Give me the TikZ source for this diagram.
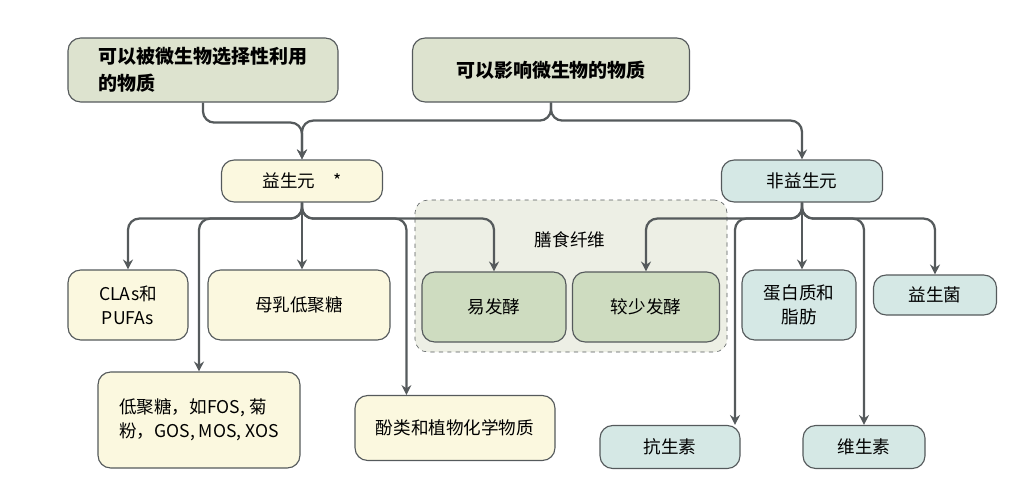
\documentclass[tikz,border=0pt]{standalone}
\usepackage{fontspec}
\setmainfont{Noto Sans CJK SC}
\usetikzlibrary{calc,arrows.meta}
\definecolor{topfill}{HTML}{DDE3CF}
\definecolor{yelfill}{HTML}{FBF8DF}
\definecolor{tealfill}{HTML}{D5E8E5}
\definecolor{grnfill}{HTML}{CEDCC0}
\definecolor{grpfill}{HTML}{EDEFE5}
\definecolor{linecol}{HTML}{555A5C}
\tikzset{
  box/.style={draw=linecol, line width=0.8pt, rounded corners=9pt, align=center,
    font=\fontsize{12.5}{17}\selectfont, inner sep=0pt},
  topbox/.style={box, fill=topfill, font=\fontsize{13.5}{19}\selectfont\bfseries},
  ybox/.style={box, fill=yelfill},
  tbox/.style={box, fill=tealfill},
  gbox/.style={box, fill=grnfill},
  arr/.style={draw=linecol, line width=1.6pt, rounded corners=8pt, -{Stealth[length=7pt,width=7pt]}},
  wire/.style={draw=linecol, line width=1.6pt, rounded corners=8pt}
}
\newcommand{\bx}[5]{\node[#1, minimum width=#4*0.025cm, minimum height=#5*0.025cm] (#2) at (#3) }
\begin{document}
\begin{tikzpicture}[x=0.025cm, y=-0.025cm]
  \useasboundingbox (0,0) rectangle (1020,480);
  % group
  \node[draw=linecol, dashed, fill=grpfill, rounded corners=9pt, minimum width=312*0.025cm,
    minimum height=152*0.025cm] (grp) at (571,276) {};
  \node[font=\fontsize{12.5}{15}\selectfont] (grplab) at (570,240) {膳食纤维};
  % top
  \bx{topbox, align=left}{selective}{203,70}{270}{64} {可以被微生物选择性利用\\的物质};
  \bx{topbox}{affect}{551,70}{277}{64} {可以影响微生物的物质};
  \bx{ybox}{prebio}{302,181}{161}{42} {益生元\quad *};
  \bx{tbox}{nonpre}{802,181}{161}{42} {非益生元};
  % leaves
  \bx{ybox}{clas}{128,305}{120}{70} {CLAs和\\PUFAs};
  \bx{ybox}{hmo}{299,305}{182}{70} {母乳低聚糖};
  \bx{gbox}{easy}{494,307}{144}{70} {易发酵};
  \bx{gbox}{less}{646,307}{147}{70} {较少发酵};
  \bx{tbox}{protein}{799,305}{114}{70} {蛋白质和\\脂肪};
  \bx{tbox}{probio}{935,295}{123}{40} {益生菌};
  \bx{ybox, align=left}{oligo}{199,420}{202}{96} {低聚糖，如FOS, 菊\\粉，GOS, MOS, XOS};
  \bx{ybox}{phenol}{455,428}{200}{65} {酚类和植物化学物质};
  \bx{tbox}{antibio}{670,447}{140}{43} {抗生素};
  \bx{tbox}{vitamin}{864,447}{122}{43} {维生素};
  % top connectors
  \draw[arr] (selective.south) -- ++(0,20) -| (prebio.north);
  \draw[arr] (affect.south) |- ($(affect.south)+(-130,18)$) -| (prebio.north);
  \draw[arr] (affect.south) -- ++(0,18) -| (nonpre.north);
  % prebiotic branches
  \draw[arr] (prebio.south) -- ++(0,16) -| (clas.north);
  \draw[arr] (prebio.south) -- ++(0,16) -| (oligo.north);
  \draw[arr] (prebio.south) -- (prebio.south |- hmo.north);
  \draw[arr] (prebio.south) -- ++(0,16) -| ($(phenol.north west)+(52,0)$);
  \draw[arr] (prebio.south) -- ++(0,16) -| (easy.north);
  % non-prebiotic branches
  \draw[arr] (nonpre.south) -- ++(0,16) -| (less.north);
  \draw[arr] (nonpre.south) -- ++(0,16) -| (antibio.north -| 735,0);
  \draw[arr] (nonpre.south) -- (protein.north -| nonpre.south);
  \draw[arr] (nonpre.south) -- ++(0,16) -| (vitamin.north);
  \draw[arr] (nonpre.south) -- ++(0,16) -| (probio.north);
\end{tikzpicture}
\end{document}
